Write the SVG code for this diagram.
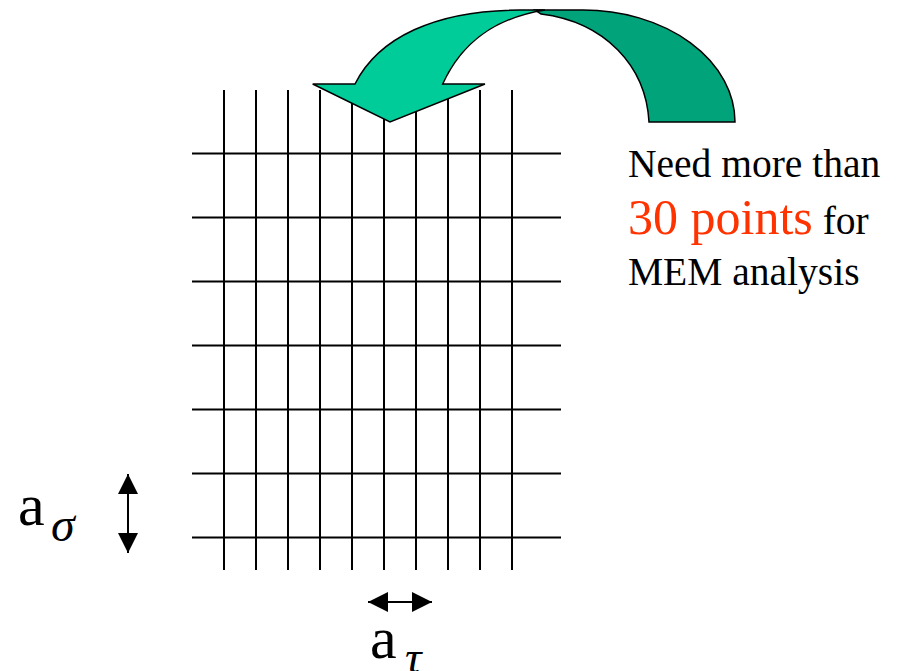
<svg xmlns="http://www.w3.org/2000/svg" width="902" height="671" viewBox="0 0 902 671">
<style>
.g{stroke:#000;stroke-width:2;fill:none}
.ser{font-family:"Liberation Serif","Times New Roman",serif;fill:#000}
.sym{font-family:"Liberation Serif","Times New Roman",serif;font-style:italic;fill:#000}
</style>
<defs>
<marker id="ah" viewBox="0 0 20 20" refX="20" refY="10" markerWidth="20" markerHeight="20" markerUnits="userSpaceOnUse" orient="auto-start-reverse">
<path d="M0,0 L20,10 L0,20 Z" fill="#000"/>
</marker>
</defs>
<rect width="902" height="671" fill="#fff"/>
<g id="grid" class="g">
<path d="M224,90V570M256,90V570M288,90V570M320,90V570M352,90V570M384,90V570M416,90V570M448,90V570M480,90V570M512,90V570"/>
<path d="M192,153.5H561M192,217.5H561M192,281.5H561M192,345.5H561M192,409.5H561M192,473.5H561M192,537.5H561"/>
</g>
<g id="curved-arrow" stroke="#000" stroke-width="1.5" stroke-linejoin="miter">
<path d="M535,10 L583,10 A152,112 0 0 1 735,122 L649,122 C646,66 605,22 541,14 Z" fill="#00A37A"/>
<path d="M312.7,84 L355,84 C378,38 435,10 520,10 L545,10 C495,18 462,42 442.7,84 L485,84 L390,122 Z" fill="#00CC99"/>
</g>
<g id="connectors">
<line x1="128" y1="474" x2="128" y2="553" stroke="#000" stroke-width="2" marker-start="url(#ah)" marker-end="url(#ah)"/>
<line x1="368" y1="602" x2="432" y2="602" stroke="#000" stroke-width="2" marker-start="url(#ah)" marker-end="url(#ah)"/>
</g>
<g id="label-sigma">
<text class="ser" x="18" y="525" font-size="60">a</text>
<text class="sym" x="51" y="541" font-size="48">σ</text>
</g>
<g id="label-tau">
<text class="ser" x="370" y="658" font-size="60">a</text>
<text class="sym" x="405" y="673" font-size="46">τ</text>
</g>
<g id="note">
<text class="ser" x="628" y="177" font-size="39.5">Need more than</text>
<text class="ser" x="628" y="234" font-size="39.5"><tspan fill="#FF3300" font-size="50">30 points</tspan> for</text>
<text class="ser" x="628" y="285" font-size="39.5">MEM analysis</text>
</g>
</svg>
